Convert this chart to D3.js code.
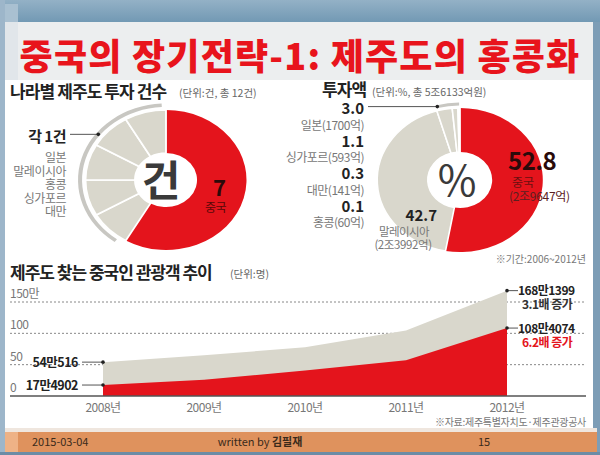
<!DOCTYPE html>
<html><head><meta charset="utf-8">
<script src="https://cdn.jsdelivr.net/npm/d3@7"></script>
<style>
html,body{margin:0;padding:0;background:#fff;}
svg{display:block;}
text{font-family:"Noto Sans CJK KR","Noto Sans",sans-serif;}
</style></head>
<body>
<svg id="c" width="600" height="455"></svg>
<script>
// ---------- data ----------
const titleText = "중국의 장기전략-1: 제주도의 홍콩화";
const countCategories = ["중국","일본","말레이시아","홍콩","싱가포르","대만"];
const countValues = [7,1,1,1,1,1];
const amountCategories = ["중국","말레이시아","일본","싱가포르","대만","홍콩"];
const amountValues = [52.8,42.7,3.0,1.1,0.3,0.1];
const amountSideLabels = [
  {value:"3.0", name:"일본(1700억)"},
  {value:"1.1", name:"싱가포르(593억)"},
  {value:"0.3", name:"대만(141억)"},
  {value:"0.1", name:"홍콩(60억)"}
];
const years = ["2008년","2009년","2010년","2011년","2012년"];
const totalVisitors = [54.05, 65.0, 77.6, 104.5, 168.14];   // 만명
const chineseVisitors = [17.49, 25.8, 40.6, 57.2, 108.41];  // 만명
const yTicks = [0,50,100,150];
const yTickLabels = ["0","50","100","150만"];

// ---------- styles ----------
const RED = "#e4141c", GRAY = "#d9d7cc", ARCGRAY = "#c8c7c2";
const svg = d3.select("#c");

// frame
svg.append("rect").attr("x",0).attr("y",0).attr("width",600).attr("height",455).attr("fill","#7d9db6");
const g0 = svg.append("defs").append("linearGradient").attr("id","topg").attr("x1",0).attr("x2",0).attr("y1",0).attr("y2",1);
g0.append("stop").attr("offset","0").attr("stop-color","#93b1c6");
g0.append("stop").attr("offset","1").attr("stop-color","#7299b4");
svg.append("rect").attr("x",0).attr("y",0).attr("width",600).attr("height",22).attr("fill","url(#topg)");
svg.append("rect").attr("x",0).attr("y",0).attr("width",5).attr("height",455).attr("fill","#9db6ca");
svg.append("rect").attr("x",5).attr("y",4).attr("width",13).attr("height",18).attr("fill","#a9c0d1");
svg.append("rect").attr("x",5).attr("y",22).attr("width",588).attr("height",58).attr("fill","#eceeef");
svg.append("rect").attr("x",5).attr("y",22).attr("width",13).attr("height",58).attr("fill","#e1e6ea");
svg.append("rect").attr("x",5).attr("y",80).attr("width",588).attr("height",350).attr("fill","#ffffff");
svg.append("rect").attr("x",5).attr("y",428).attr("width",592).attr("height",5).attr("fill","#efe6de");
svg.append("rect").attr("x",5).attr("y",432).attr("width",592).attr("height",20).attr("fill","#df925d");
svg.append("rect").attr("x",5).attr("y",432).attr("width",13).attr("height",20).attr("fill","#eeb286");
svg.append("rect").attr("x",0).attr("y",452).attr("width",600).attr("height",3).attr("fill","#6c8ca6");

// title
svg.append("text").attr("x",300).attr("y",70).attr("text-anchor","middle")
  .attr("font-size",36).attr("font-weight",900).attr("fill","#e8141c")
  .attr("letter-spacing","1.2").text(titleText);

// ---------- section 1: counts donut ----------
const sx = 1.15;
svg.append("text").attr("x",10).attr("y",98).attr("font-size",17).attr("font-weight",700)
  .attr("letter-spacing","-0.9").attr("fill","#222").text("나라별 제주도 투자 건수");
svg.append("text").attr("x",179).attr("y",97).attr("font-size",10.5).attr("fill","#666")
  .text("(단위:건, 총 12건)");

const pie = d3.pie().sort(null).startAngle(0).endAngle(2*Math.PI);
const c1 = {x:166, y:180};
const d1 = svg.append("g").attr("transform",`translate(${c1.x},${c1.y}) scale(${sx},1)`);
const arcs1 = pie(countValues);
const arc = d3.arc().innerRadius(27).outerRadius(70);
d1.selectAll("path.s").data(arcs1).join("path").attr("class","s")
  .attr("d",arc).attr("fill",(d,i)=>i===0?RED:GRAY)
  .attr("stroke","#fff").attr("stroke-width",(d,i)=>i===0?0:1.6);
const outerArc1 = d3.arc().innerRadius(73).outerRadius(76.5)
  .startAngle(arcs1[0].endAngle+0.1).endAngle(2*Math.PI-0.05);
d1.append("path").attr("d",outerArc1()).attr("fill",ARCGRAY);
const a1 = 2*Math.PI*0.855;
const p1 = [c1.x + sx*74.5*Math.sin(a1), c1.y - 74.5*Math.cos(a1)];
svg.append("line").attr("x1",70).attr("x2",p1[0]).attr("y1",p1[1]).attr("y2",p1[1]).attr("stroke","#555").attr("stroke-width",1);
svg.append("circle").attr("cx",p1[0]).attr("cy",p1[1]).attr("r",1.8).attr("fill","#222");
svg.append("text").attr("x",66).attr("y",142).attr("text-anchor","end").attr("font-size",15)
  .attr("font-weight",700).attr("fill","#222").attr("letter-spacing","-0.5").text("각 1건");
svg.selectAll("text.cn").data(countCategories.slice(1))
  .join("text").attr("class","cn").attr("x",66).attr("y",(d,i)=>162+i*13.5)
  .attr("text-anchor","end").attr("font-size",12).attr("fill","#777").attr("letter-spacing","-0.5").text(d=>d);
svg.append("text").attr("x",161).attr("y",196).attr("text-anchor","middle").attr("font-size",42)
  .attr("font-weight",700).attr("fill","#3a3a3a").text("건");
svg.append("text").attr("x",213).attr("y",196).attr("font-size",22).attr("font-weight",700)
  .attr("fill","#2a0a0a").text(countValues[0]);
svg.append("text").attr("x",205).attr("y",212).attr("font-size",12).attr("fill","#5a0808")
  .attr("letter-spacing","-0.5").text(countCategories[0]);

// ---------- section 2: amount donut ----------
svg.append("text").attr("x",322).attr("y",96).attr("font-size",17).attr("font-weight",700)
  .attr("letter-spacing","-0.9").attr("fill","#222").text("투자액");
svg.append("text").attr("x",372).attr("y",96).attr("font-size",10.5).attr("fill","#666")
  .text("(단위:%, 총 5조6133억원)");
const c2 = {x:460, y:180};
const d2 = svg.append("g").attr("transform",`translate(${c2.x},${c2.y}) scale(${sx},1)`);
const arcs2 = pie(amountValues);
const arc2 = d3.arc().innerRadius(28).outerRadius(72);
d2.selectAll("path.s").data(arcs2).join("path").attr("class","s")
  .attr("d",arc2).attr("fill",(d,i)=>i===0?RED:GRAY)
  .attr("stroke","#fff").attr("stroke-width",(d,i)=>i===0?0:1.4);
const outerArc2 = d3.arc().innerRadius(74.5).outerRadius(77.5)
  .startAngle(arcs2[2].startAngle+0.02).endAngle(2*Math.PI-0.01);
d2.append("path").attr("d",outerArc2()).attr("fill",ARCGRAY);
const a2 = arcs2[2].startAngle+0.02;
const p2 = [c2.x + sx*76*Math.sin(a2), c2.y - 76*Math.cos(a2)];
svg.append("line").attr("x1",368).attr("x2",p2[0]).attr("y1",p2[1]).attr("y2",p2[1]).attr("stroke","#555").attr("stroke-width",1);
svg.append("circle").attr("cx",p2[0]).attr("cy",p2[1]).attr("r",1.8).attr("fill","#222");
amountSideLabels.forEach((d,i)=>{
  const by = 114 + i*32.5;
  svg.append("text").attr("x",364).attr("y",by).attr("text-anchor","end").attr("font-size",15)
    .attr("font-weight",700).attr("fill","#222").text(d.value);
  svg.append("text").attr("x",364).attr("y",by+15.5).attr("text-anchor","end").attr("font-size",12)
    .attr("fill","#777").attr("letter-spacing","-0.5").text(d.name);
});
svg.append("text").attr("x",457).attr("y",196).attr("text-anchor","middle").attr("font-size",42)
  .attr("fill","#3a3a3a").text("%");
svg.append("text").attr("x",508).attr("y",170).attr("font-size",24).attr("font-weight",700)
  .attr("fill","#2a0a0a").attr("letter-spacing","-0.5").text(amountValues[0].toFixed(1));
svg.append("text").attr("x",512).attr("y",187).attr("font-size",12).attr("fill","#6a1010")
  .text(amountCategories[0]);
svg.append("text").attr("x",509).attr("y",201).attr("font-size",12).attr("fill","#5a2020")
  .attr("letter-spacing","-0.3").text("(2조9647억)");
svg.append("text").attr("x",437).attr("y",221).attr("text-anchor","end").attr("font-size",15)
  .attr("font-weight",700).attr("fill","#222").text(amountValues[1].toFixed(1));
svg.append("text").attr("x",404).attr("y",236).attr("text-anchor","middle").attr("font-size",11.5)
  .attr("fill","#777").attr("letter-spacing","-0.6").text(amountCategories[1]);
svg.append("text").attr("x",403).attr("y",249).attr("text-anchor","middle").attr("font-size",11.5)
  .attr("fill","#777").attr("letter-spacing","-0.4").text("(2조3992억)");
svg.append("text").attr("x",586).attr("y",263).attr("text-anchor","end").attr("font-size",10)
  .attr("fill","#777").text("※기간:2006~2012년");

// ---------- section 3: area chart ----------
svg.append("text").attr("x",10).attr("y",279).attr("font-size",17).attr("font-weight",700)
  .attr("letter-spacing","-1").attr("fill","#222").text("제주도 찾는 중국인 관광객 추이");
svg.append("text").attr("x",230).attr("y",278).attr("font-size",10.5).attr("fill","#666").text("(단위:명)");

const x = d3.scalePoint().domain(years).range([103,507]);
const y = d3.scaleLinear().domain([0,150]).range([396,302]);
svg.selectAll("line.grid").data(yTicks.filter(t=>t>0)).join("line").attr("class","grid")
  .attr("x1",10).attr("x2",586).attr("y1",d=>y(d)).attr("y2",d=>y(d))
  .attr("stroke","#888").attr("stroke-width",1).attr("stroke-dasharray","2,2");
svg.selectAll("text.yt").data(yTicks).join("text").attr("class","yt")
  .attr("x",10).attr("y",d=>y(d)-4).attr("font-size",12).attr("fill","#777").attr("letter-spacing","-0.5")
  .text((d,i)=>yTickLabels[i]);

const rowsTotal = years.map((yr,i)=>({yr, v:totalVisitors[i]}));
const rowsChina = years.map((yr,i)=>({yr, v:chineseVisitors[i]}));
const area = d3.area().x(d=>x(d.yr)).y0(y(0)).y1(d=>y(d.v));
svg.append("path").attr("d",area(rowsTotal)).attr("fill",GRAY);
svg.append("path").attr("d",area(rowsChina)).attr("fill",RED);
svg.append("line").attr("x1",10).attr("x2",586).attr("y1",y(0)).attr("y2",y(0))
  .attr("stroke","#555").attr("stroke-width",1.5);
svg.selectAll("text.xt").data(years).join("text").attr("class","xt")
  .attr("x",d=>x(d)).attr("y",412).attr("text-anchor","middle").attr("font-size",12)
  .attr("fill","#777").attr("letter-spacing","-0.5").text(d=>d);

function leftNote(v, label){
  const px = x(years[0]), py = y(v);
  svg.append("line").attr("x1",82).attr("x2",px).attr("y1",py).attr("y2",py).attr("stroke","#555");
  svg.append("circle").attr("cx",px).attr("cy",py).attr("r",1.8).attr("fill","#222");
  svg.append("text").attr("x",78).attr("y",py+4.5).attr("text-anchor","end").attr("font-size",12.5)
    .attr("font-weight",700).attr("fill","#222").attr("letter-spacing","-0.5").text(label);
}
leftNote(totalVisitors[0], "54만516");
leftNote(chineseVisitors[0], "17만4902");
function rightNote(v, label, sub, subColor){
  const px = x(years[4]), py = y(v);
  svg.append("line").attr("x1",px).attr("x2",px+11).attr("y1",py).attr("y2",py).attr("stroke","#555");
  svg.append("circle").attr("cx",px).attr("cy",py).attr("r",1.8).attr("fill","#222");
  svg.append("text").attr("x",px+11).attr("y",py+4.5).attr("font-size",12)
    .attr("font-weight",700).attr("fill","#222").attr("letter-spacing","-0.5").text(label);
  svg.append("text").attr("x",px+15).attr("y",py+18.5).attr("font-size",12)
    .attr("font-weight",700).attr("fill",subColor).attr("letter-spacing","-0.5").text(sub);
}
rightNote(totalVisitors[4], "168만1399", "3.1배 증가", "#333");
rightNote(chineseVisitors[4], "108만4074", "6.2배 증가", "#e4141c");
svg.append("text").attr("x",586).attr("y",426).attr("text-anchor","end").attr("font-size",10)
  .attr("fill","#777").attr("letter-spacing","-0.3").text("※자료:제주특별자치도·제주관광공사");

// footer
svg.append("text").attr("x",32).attr("y",446).attr("font-size",11)
  .attr("font-family","'Liberation Serif','DejaVu Serif',serif").attr("fill","#3a2a1a").text("2015-03-04");
const ft = svg.append("text").attr("x",260).attr("y",446).attr("text-anchor","middle").attr("font-size",11)
  .attr("font-family","'Liberation Serif','DejaVu Serif',serif").attr("fill","#3a2a1a");
ft.append("tspan").text("written by ");
ft.append("tspan").attr("font-family","'Noto Sans CJK KR'").attr("font-weight",700).text("김필재");
svg.append("text").attr("x",484).attr("y",446).attr("text-anchor","middle").attr("font-size",11)
  .attr("font-family","'Liberation Serif','DejaVu Serif',serif").attr("fill","#3a2a1a").text("15");
</script>
</body></html>
